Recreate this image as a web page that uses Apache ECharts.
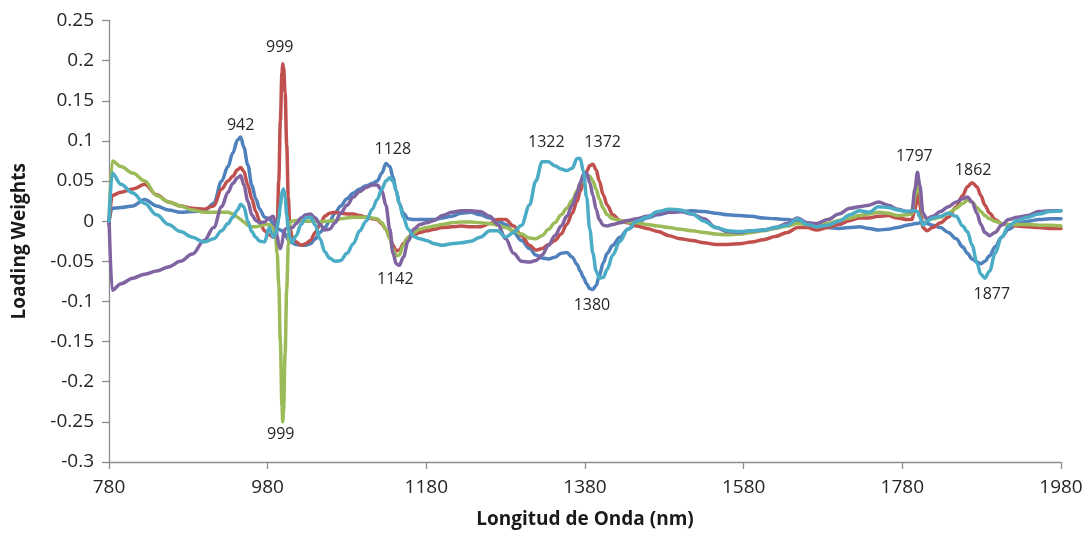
<!DOCTYPE html>
<html>
<head>
<meta charset="utf-8">
<script src="https://cdn.jsdelivr.net/npm/echarts@6/dist/echarts.min.js"></script>
<style>
  html, body { margin: 0; padding: 0; background: #fff; }
  #chart { width: 1091px; height: 534px; }
</style>
</head>
<body>
<div id="chart"></div>
<script>
// Wavelength grid (nm), denser around the sharp bands
const wavelengths = [
  780, 784, 795, 810, 825, 840, 855, 870, 885, 900, 912, 922, 930,
  936, 942, 946, 950, 955, 960, 965, 970, 976, 982, 987, 990, 992, 994, 996, 998, 999, 1000, 1002, 1004, 1006, 1008,
  1011, 1016, 1022, 1028, 1034, 1040, 1046, 1052, 1058, 1065, 1072, 1080, 1088, 1096, 1104, 1112, 1118, 1124, 1129, 1134, 1138, 1142, 1146, 1151, 1157, 1164, 1172, 1180, 1190, 1200,
  1212, 1224, 1236, 1248, 1260, 1270, 1280, 1290, 1300,
  1310, 1318, 1326, 1334, 1342, 1350, 1357, 1364, 1370, 1374, 1378, 1382, 1386, 1390, 1394, 1398, 1403, 1408, 1415, 1424, 1434, 1445, 1458, 1472, 1486, 1500,
  1515, 1530, 1545, 1560, 1575, 1590, 1605, 1620, 1635, 1648, 1660, 1672, 1686, 1700, 1714, 1726, 1738, 1750, 1762, 1774, 1786,
  1792, 1796, 1799, 1802, 1806, 1811, 1818, 1828, 1838, 1848, 1856, 1862, 1868, 1874, 1879, 1884, 1890, 1897, 1905, 1914, 1925, 1938, 1952, 1966, 1980
];

const blueWeights = [
  0.000, 0.016, 0.017, 0.019, 0.027, 0.019, 0.014, 0.011, 0.012, 0.013, 0.022, 0.050, 0.068,
  0.085, 0.101, 0.105, 0.092, 0.070, 0.045, 0.028, 0.015, 0.005, 0.003, -0.003, -0.007, -0.009, -0.010, -0.011, -0.012, -0.013, -0.014, -0.016, -0.020, -0.023, -0.025,
  -0.027, -0.029, -0.030, -0.030, -0.028, -0.022, -0.014, -0.008, 0.000, 0.010, 0.019, 0.028, 0.035, 0.040, 0.044, 0.047, 0.050, 0.060, 0.072, 0.068, 0.055, 0.038, 0.022, 0.010, 0.003, 0.002, 0.002, 0.002, 0.002, 0.004,
  0.006, 0.010, 0.011, 0.008, 0.004, 0.000, -0.004, -0.014, -0.024,
  -0.034, -0.042, -0.046, -0.047, -0.045, -0.040, -0.039, -0.045, -0.054, -0.062, -0.070, -0.078, -0.084, -0.085, -0.080, -0.068, -0.052, -0.040, -0.030, -0.020, -0.010, -0.003, 0.004, 0.008, 0.011, 0.012,
  0.013, 0.012, 0.010, 0.008, 0.007, 0.006, 0.004, 0.003, 0.002, 0.000, -0.002, -0.005, -0.008, -0.009, -0.008, -0.007, -0.009, -0.011, -0.010, -0.008, -0.005,
  -0.004, -0.003, -0.003, -0.002, -0.002, -0.003, -0.005, -0.008, -0.014, -0.022, -0.032, -0.040, -0.047, -0.051, -0.053, -0.050, -0.043, -0.032, -0.020, -0.010, -0.003, 0.000, 0.002, 0.003, 0.003
];

const redWeights = [
  -0.005, 0.032, 0.036, 0.040, 0.046, 0.033, 0.024, 0.019, 0.016, 0.015, 0.019, 0.040, 0.050,
  0.056, 0.064, 0.067, 0.062, 0.045, 0.028, 0.012, 0.000, -0.012, -0.017, -0.020, -0.020, -0.005, 0.050, 0.125, 0.185, 0.196, 0.192, 0.160, 0.095, 0.030, -0.008,
  -0.020, -0.026, -0.030, -0.028, -0.024, -0.014, -0.004, 0.006, 0.010, 0.011, 0.010, 0.009, 0.009, 0.007, 0.005, 0.003, 0.002, -0.003, -0.010, -0.020, -0.030, -0.037, -0.036, -0.028, -0.021, -0.017, -0.014, -0.012, -0.010, -0.008,
  -0.007, -0.006, -0.007, -0.007, -0.003, 0.002, 0.002, -0.006, -0.018,
  -0.030, -0.036, -0.034, -0.029, -0.024, -0.016, -0.004, 0.010, 0.025, 0.037, 0.050, 0.062, 0.069, 0.071, 0.064, 0.050, 0.033, 0.020, 0.008, 0.001, -0.002, -0.006, -0.009, -0.013, -0.018, -0.022,
  -0.024, -0.027, -0.029, -0.029, -0.028, -0.026, -0.023, -0.019, -0.014, -0.008, -0.008, -0.011, -0.008, -0.004, 0.001, 0.004, 0.004, 0.006, 0.007, 0.004, 0.002,
  0.002, 0.015, 0.034, 0.020, -0.008, -0.012, -0.008, -0.002, 0.005, 0.018, 0.032, 0.043, 0.048, 0.043, 0.032, 0.020, 0.010, 0.002, -0.003, -0.005, -0.006, -0.007, -0.008, -0.009, -0.009
];

const greenWeights = [
  0.000, 0.075, 0.068, 0.060, 0.050, 0.032, 0.024, 0.019, 0.014, 0.011, 0.011, 0.011, 0.011,
  0.009, 0.005, 0.002, -0.001, -0.005, -0.007, -0.007, -0.006, -0.004, -0.004, -0.008, -0.020, -0.040, -0.080, -0.150, -0.230, -0.250, -0.238, -0.165, -0.085, -0.030, -0.002,
  0.000, 0.001, 0.000, 0.000, 0.000, 0.000, -0.001, 0.000, 0.000, 0.001, 0.003, 0.004, 0.005, 0.005, 0.005, 0.004, 0.003, -0.002, -0.010, -0.022, -0.035, -0.043, -0.042, -0.030, -0.020, -0.014, -0.010, -0.008, -0.006, -0.004,
  -0.002, -0.001, -0.001, -0.002, -0.003, -0.005, -0.008, -0.012, -0.016,
  -0.021, -0.022, -0.018, -0.010, -0.002, 0.008, 0.016, 0.026, 0.038, 0.047, 0.054, 0.058, 0.056, 0.050, 0.040, 0.028, 0.016, 0.008, 0.003, 0.001, -0.001, -0.002, -0.004, -0.006, -0.008, -0.010,
  -0.012, -0.014, -0.016, -0.017, -0.016, -0.014, -0.012, -0.009, -0.006, -0.003, -0.004, -0.005, -0.003, 0.001, 0.004, 0.007, 0.009, 0.011, 0.010, 0.007, 0.008,
  0.009, 0.030, 0.057, 0.035, 0.008, 0.002, 0.003, 0.005, 0.010, 0.016, 0.022, 0.026, 0.024, 0.017, 0.012, 0.007, 0.003, 0.000, -0.003, -0.004, -0.004, -0.004, -0.005, -0.005, -0.006
];

const purpleWeights = [
  0.005, -0.086, -0.078, -0.071, -0.066, -0.062, -0.057, -0.050, -0.041, -0.024, -0.008, 0.018, 0.036,
  0.047, 0.054, 0.057, 0.045, 0.025, 0.008, 0.001, -0.002, -0.001, 0.004, 0.006, -0.004, -0.018, -0.030, -0.034, -0.028, -0.022, -0.016, -0.010, -0.009, -0.009, -0.009,
  -0.008, -0.003, 0.004, 0.008, 0.009, 0.004, -0.004, -0.011, -0.010, -0.002, 0.010, 0.020, 0.030, 0.037, 0.042, 0.045, 0.045, 0.038, 0.020, -0.010, -0.040, -0.053, -0.055, -0.045, -0.025, -0.010, -0.004, -0.002, 0.001, 0.007,
  0.011, 0.013, 0.013, 0.012, 0.006, -0.004, -0.022, -0.040, -0.050,
  -0.051, -0.049, -0.042, -0.030, -0.018, -0.006, 0.006, 0.020, 0.035, 0.048, 0.058, 0.060, 0.048, 0.032, 0.015, 0.002, -0.005, -0.006, -0.004, -0.002, 0.001, 0.003, 0.006, 0.009, 0.011, 0.012,
  0.009, 0.003, -0.008, -0.013, -0.014, -0.012, -0.011, -0.008, -0.003, 0.004, -0.002, -0.003, 0.002, 0.009, 0.016, 0.018, 0.020, 0.024, 0.020, 0.015, 0.012,
  0.012, 0.040, 0.061, 0.045, 0.010, 0.003, 0.006, 0.012, 0.018, 0.024, 0.028, 0.030, 0.024, 0.010, -0.004, -0.014, -0.018, -0.014, -0.005, 0.002, 0.005, 0.007, 0.012, 0.013, 0.013
];

const cyanWeights = [
  0.000, 0.060, 0.046, 0.035, 0.022, 0.008, -0.004, -0.013, -0.020, -0.026, -0.022, -0.012, -0.003,
  0.005, 0.014, 0.021, 0.018, 0.000, -0.013, -0.020, -0.025, -0.026, -0.008, -0.020, -0.016, -0.008, 0.004, 0.020, 0.035, 0.039, 0.040, 0.030, 0.008, -0.010, -0.020,
  -0.026, -0.018, -0.004, 0.004, 0.005, -0.005, -0.022, -0.038, -0.046, -0.050, -0.049, -0.040, -0.028, -0.012, 0.000, 0.015, 0.027, 0.040, 0.050, 0.054, 0.050, 0.038, 0.022, 0.005, -0.010, -0.019, -0.022, -0.024, -0.028, -0.030,
  -0.028, -0.027, -0.025, -0.020, -0.012, -0.012, -0.020, -0.014, -0.005,
  0.020, 0.050, 0.074, 0.074, 0.069, 0.065, 0.063, 0.066, 0.078, 0.078, 0.062, 0.030, -0.010, -0.040, -0.062, -0.071, -0.070, -0.060, -0.042, -0.025, -0.010, 0.000, 0.005, 0.012, 0.015, 0.014,
  0.009, 0.000, -0.008, -0.012, -0.013, -0.012, -0.011, -0.008, -0.005, 0.003, -0.004, -0.007, -0.005, 0.000, 0.008, 0.013, 0.011, 0.018, 0.017, 0.014, 0.012,
  0.013, 0.013, 0.012, 0.005, -0.005, 0.000, 0.004, 0.006, 0.010, 0.006, -0.006, -0.013, -0.030, -0.052, -0.066, -0.071, -0.062, -0.040, -0.020, -0.006, 0.001, 0.005, 0.009, 0.012, 0.013
];

// Axis ticks
const xTicks = [780, 980, 1180, 1380, 1580, 1780, 1980];
const yTicks = [0.25, 0.2, 0.15, 0.1, 0.05, 0, -0.05, -0.1, -0.15, -0.2, -0.25, -0.3];

// Band annotations: label text and the series/wavelength they sit on
const bandLabels = ['942', '999', '999', '1128', '1142', '1322', '1372', '1380', '1797', '1862', '1877'];
const bandSeries = ['blue', 'red', 'green', 'blue', 'purple', 'cyan', 'cyan', 'blue', 'purple', 'red', 'cyan'];
const bandAt = [946, 999, 999, 1129, 1146, 1330, 1372, 1390, 1799, 1868, 1884];

const seriesDefs = [
  { key: 'blue', values: blueWeights, color: '#4F81BD' },
  { key: 'red', values: redWeights, color: '#C0504D' },
  { key: 'green', values: greenWeights, color: '#9BBB59' },
  { key: 'purple', values: purpleWeights, color: '#8064A2' },
  { key: 'cyan', values: cyanWeights, color: '#4BACC6' }
];

// Pixel offsets of each annotation relative to its band point
const labelOffsets = [
  [0, -11], [-3, -16], [-2, 13], [7, -14], [-4, 14], [1, -19], [24, -16], [-1, 16], [-3, -16], [1, -12], [7, 16]
];

function valueAt(values, nm) {
  let best = 0;
  for (let i = 0; i < wavelengths.length; i++) {
    if (Math.abs(wavelengths[i] - nm) < Math.abs(wavelengths[best] - nm)) best = i;
  }
  return values[best];
}

const labelFont = 'Open Sans';
const series = seriesDefs.map(def => {
  const marks = [];
  bandLabels.forEach((txt, i) => {
    if (bandSeries[i] !== def.key) return;
    marks.push({
      coord: [bandAt[i], valueAt(def.values, bandAt[i])],
      value: txt,
      label: { offset: labelOffsets[i] }
    });
  });
  return {
    name: def.key,
    type: 'line',
    data: wavelengths.map((w, i) => [w, def.values[i]]),
    showSymbol: false,
    smooth: 0.35,
    smoothMonotone: 'x',
    lineStyle: { color: def.color, width: 3.5, cap: 'round', join: 'round' },
    itemStyle: { color: def.color },
    emphasis: { disabled: true },
    markPoint: marks.length ? {
      symbol: 'circle',
      symbolSize: 0,
      silent: true,
      label: {
        show: true,
        position: 'inside',
        formatter: p => p.value,
        color: '#262626',
        fontFamily: labelFont,
        fontSize: 16
      },
      data: marks
    } : undefined
  };
});

const chart = echarts.init(document.getElementById('chart'), null, { renderer: 'canvas' });
chart.setOption({
  animation: false,
  backgroundColor: '#ffffff',
  grid: { left: 109, right: 30, top: 20.5, bottom: 69, containLabel: false },
  xAxis: {
    type: 'value',
    min: xTicks[0],
    max: xTicks[xTicks.length - 1],
    interval: xTicks[1] - xTicks[0],
    name: 'Longitud de Onda (nm)',
    nameLocation: 'middle',
    nameGap: 48,
    nameTextStyle: { fontFamily: labelFont, fontWeight: 'bold', fontSize: 19, color: '#1a1a1a' },
    axisLine: { onZero: false, lineStyle: { color: '#8c8c8c', width: 1.3 } },
    axisTick: { show: true, length: 7, lineStyle: { color: '#8c8c8c', width: 1.3 } },
    axisLabel: { margin: 16, fontFamily: labelFont, fontSize: 19, color: '#262626', formatter: v => String(v) },
    splitLine: { show: false }
  },
  yAxis: {
    type: 'value',
    min: yTicks[yTicks.length - 1],
    max: yTicks[0],
    interval: yTicks[0] - yTicks[1],
    name: 'Loading Weights',
    nameLocation: 'middle',
    nameGap: 80,
    nameRotate: 90,
    nameTextStyle: { fontFamily: labelFont, fontWeight: 'bold', fontSize: 19, color: '#1a1a1a' },
    axisLine: { show: true, lineStyle: { color: '#8c8c8c', width: 1.3 } },
    axisTick: { show: true, length: 7, lineStyle: { color: '#8c8c8c', width: 1.3 } },
    axisLabel: {
      margin: 15, fontFamily: labelFont, fontSize: 19, color: '#262626',
      formatter: v => String(Math.round(v * 100) / 100)
    },
    splitLine: { show: false }
  },
  series: series
});
</script>
</body>
</html>
